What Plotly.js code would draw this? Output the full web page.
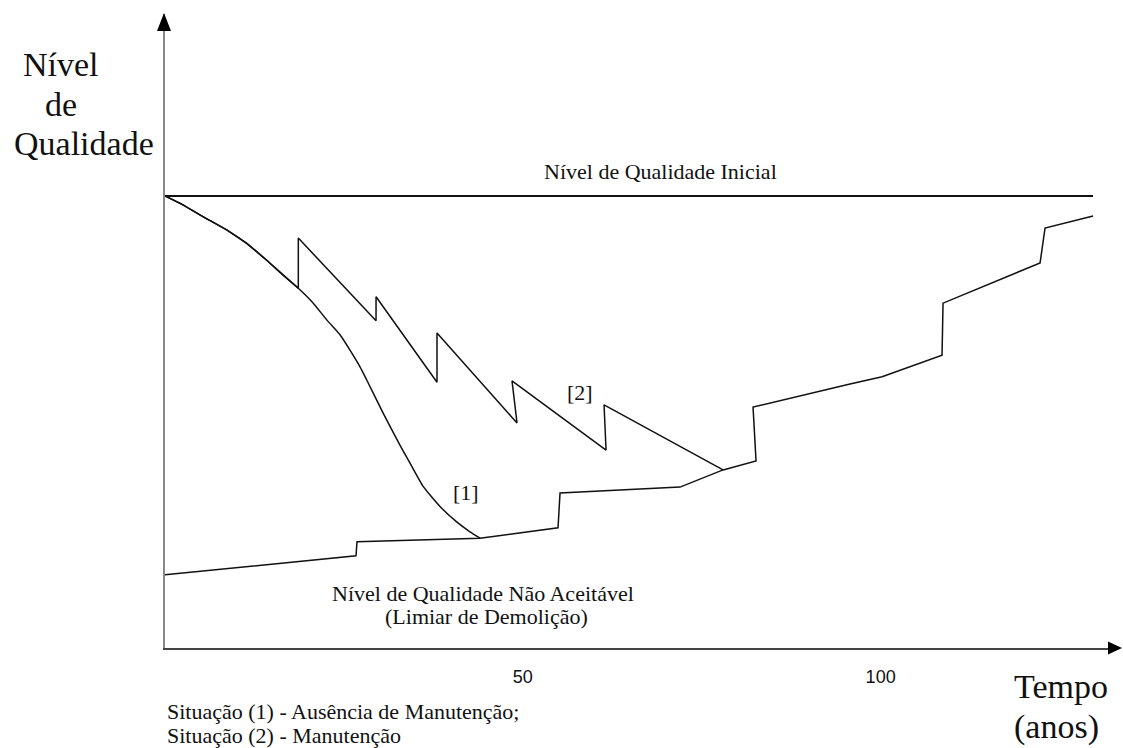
<!DOCTYPE html>
<html>
<head>
<meta charset="utf-8">
<script src="https://cdn.plot.ly/plotly-3.0.1.min.js"></script>
<style>html,body{margin:0;padding:0;background:#fff;}#chart{width:1123px;height:748px;}</style>
</head>
<body>
<div id="chart"></div>
<script>
// Situação (1) - Ausência de Manutenção
const tempoSemManut = [0, 2.56, 5.35, 8.62, 11.42, 14.21, 16.52, 18.63, 20.72, 22.60, 24.46, 25.85, 27.25, 28.19, 30.50, 32.83, 34.24, 36.10, 38.43, 40.76, 42.62, 44.02];
const nivelSemManut = [100, 98.0, 95.4, 92.5, 89.5, 85.8, 82.5, 79.6, 76.3, 72.6, 69.3, 65.9, 62.2, 59.3, 51.9, 44.9, 40.9, 35.7, 31.3, 27.9, 25.7, 24.3];

// Situação (2) - Manutenção
const tempoManut = [0, 2.56, 5.35, 8.62, 11.42, 14.21, 16.52, 18.63, 18.63, 29.49, 29.49, 38.01, 38.01, 49.19, 48.49, 61.63, 61.35, 77.98];
const nivelManut = [100, 98.0, 95.4, 92.5, 89.5, 85.8, 82.5, 79.6, 90.7, 72.4, 77.7, 58.8, 69.7, 49.8, 59.1, 43.8, 53.8, 39.4];

// Nível de Qualidade Não Aceitável (Limiar de Demolição)
const tempoLimiar = [0, 26.69, 26.83, 44.02, 54.92, 55.20, 71.97, 77.98, 82.59, 82.17, 95.72, 100.20, 108.58, 108.72, 122.28, 122.97, 129.68];
const nivelLimiar = [16.2, 20.4, 23.5, 24.3, 26.6, 34.3, 35.6, 39.4, 41.4, 53.3, 58.4, 60.0, 64.8, 76.3, 85.2, 92.9, 95.6];

// Nível de Qualidade Inicial
const tempoInicial = [0, 129.68];
const nivelInicial = [100, 100];

const tickAnos = [50, 100];
const tickTexto = ['50', '100'];

const serif = 'Liberation Serif, Times New Roman, serif';
const lineStyle = {color: '#111', width: 1.5};

const traces = [
  {x: tempoInicial, y: nivelInicial, mode: 'lines', line: {color: '#111', width: 1.8}, hoverinfo: 'skip'},
  {x: tempoLimiar, y: nivelLimiar, mode: 'lines', line: lineStyle},
  {x: tempoManut, y: nivelManut, mode: 'lines', line: lineStyle},
  {x: tempoSemManut, y: nivelSemManut, mode: 'lines', line: {color: '#111', width: 1.5, shape: 'spline', smoothing: 0.5}}
];

const layout = {
  width: 1123, height: 748,
  margin: {l: 165, r: 11, t: 14, b: 100},
  paper_bgcolor: '#fff', plot_bgcolor: '#fff',
  showlegend: false,
  xaxis: {
    range: [0, 132.33], showgrid: false, zeroline: false,
    showline: true, linecolor: '#444', linewidth: 2,
    tickvals: tickAnos, ticktext: tickTexto, ticks: '',
    ticklabelstandoff: 11,
    tickfont: {family: 'Liberation Sans, Arial, sans-serif', size: 18, color: '#111'}
  },
  yaxis: {
    range: [0, 140.27], showgrid: false, zeroline: false,
    showline: true, linecolor: '#888', linewidth: 2,
    showticklabels: false, ticks: ''
  },
  shapes: [
    {type: 'path', xref: 'paper', yref: 'paper', xsizemode: 'pixel', ysizemode: 'pixel',
     xanchor: 0, yanchor: 1, path: 'M-8,-17L-1,1L6,-17Z', fillcolor: '#000', line: {width: 0}},
    {type: 'path', xref: 'paper', yref: 'paper', xsizemode: 'pixel', ysizemode: 'pixel',
     xanchor: 1, yanchor: 0, path: 'M-4,-6.5L10,0L-4,6.5Z', fillcolor: '#000', line: {width: 0}}
  ],
  annotations: [
    {xref: 'paper', yref: 'paper', x: -0.1521, y: 0.9196, xanchor: 'left', yanchor: 'middle', showarrow: false,
     text: 'Nível', font: {family: serif, size: 34, color: '#111'}},
    {xref: 'paper', yref: 'paper', x: -0.1288, y: 0.8565, xanchor: 'left', yanchor: 'middle', showarrow: false,
     text: 'de', font: {family: serif, size: 34, color: '#111'}},
    {xref: 'paper', yref: 'paper', x: -0.1616, y: 0.7965, xanchor: 'left', yanchor: 'middle', showarrow: false,
     text: 'Qualidade', font: {family: serif, size: 34, color: '#111'}},
    {xref: 'paper', yref: 'paper', x: 0.8944, y: -0.0615, xanchor: 'left', yanchor: 'middle', showarrow: false,
     text: 'Tempo', font: {family: serif, size: 34, color: '#111'}},
    {xref: 'paper', yref: 'paper', x: 0.8944, y: -0.1246, xanchor: 'left', yanchor: 'middle', showarrow: false,
     text: '(anos)', font: {family: serif, size: 34, color: '#111'}},
    {xref: 'paper', yref: 'paper', x: 0.0, y: -0.1009, xanchor: 'left', yanchor: 'middle', showarrow: false,
     text: 'Situação (1) - Ausência de Manutenção;', font: {family: serif, size: 22, color: '#111'}},
    {xref: 'paper', yref: 'paper', x: 0.0, y: -0.1388, xanchor: 'left', yanchor: 'middle', showarrow: false,
     text: 'Situação (2) - Manutenção', font: {family: serif, size: 22, color: '#111'}},
    {xref: 'x', yref: 'y', x: 69.17, y: 105.53, showarrow: false,
     text: 'Nível de Qualidade Inicial', font: {family: serif, size: 22, color: '#111'}},
    {xref: 'x', yref: 'y', x: 44.44, y: 11.95, showarrow: false,
     text: 'Nível de Qualidade Não Aceitável', font: {family: serif, size: 22, color: '#111'}},
    {xref: 'x', yref: 'y', x: 44.86, y: 7.08, showarrow: false,
     text: '(Limiar de Demolição)', font: {family: serif, size: 22, color: '#111'}},
    {xref: 'x', yref: 'y', x: 42.06, y: 34.51, showarrow: false,
     text: '[1]', font: {family: serif, size: 22, color: '#111'}},
    {xref: 'x', yref: 'y', x: 57.99, y: 56.64, showarrow: false,
     text: '[2]', font: {family: serif, size: 22, color: '#111'}}
  ]
};

Plotly.newPlot('chart', traces, layout, {staticPlot: true, displayModeBar: false});
</script>
</body>
</html>
